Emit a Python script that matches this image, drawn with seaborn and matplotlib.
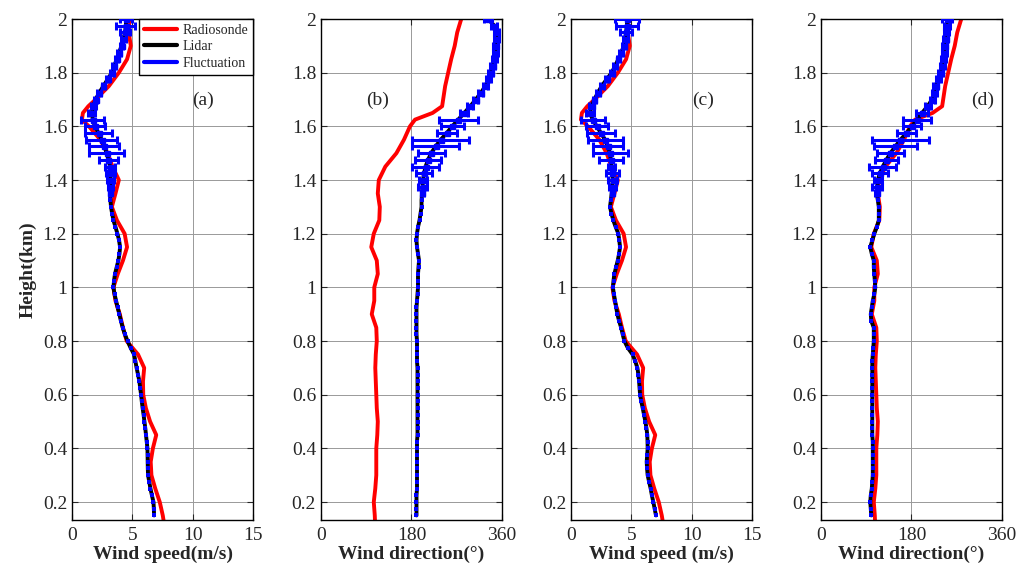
import numpy as np
import matplotlib
matplotlib.use("Agg")
import matplotlib.pyplot as plt
from matplotlib.lines import Line2D
from matplotlib.ticker import FuncFormatter
import seaborn as sns

sns.set_style("ticks")
plt.rcParams['font.family'] = ['Liberation Serif', 'DejaVu Serif']

# --- radiosonde levels (km) and profiles ---
h_sonde = [0.10, 0.15, 0.20, 0.25, 0.30, 0.35, 0.40, 0.45, 0.50, 0.55,
           0.60, 0.65, 0.70, 0.75, 0.80, 0.85, 0.90, 0.95, 1.00, 1.05,
           1.10, 1.15, 1.20, 1.25, 1.30, 1.35, 1.40, 1.45, 1.50, 1.55,
           1.60, 1.625, 1.65, 1.675, 1.70, 1.75, 1.80, 1.85, 1.90, 1.95, 2.00]
sonde_speed = [7.70, 7.52, 7.27, 6.90, 6.58, 6.52, 6.70, 6.98, 6.47, 6.12,
               5.90, 5.88, 5.98, 5.47, 4.53, 4.22, 3.96, 3.60, 3.43, 3.79,
               4.22, 4.56, 4.36, 3.72, 3.30, 3.60, 3.88, 3.35, 2.95, 2.35,
               1.40, 0.82, 0.90, 1.35, 1.95, 3.05, 3.88, 4.56, 4.87, 4.70, 4.75]
sonde_dir = [108, 107, 105, 108, 110, 110, 110, 112, 113, 111,
             110, 109, 108, 109, 111, 110, 101, 106, 106, 113,
             111, 100, 105, 116, 117, 113, 115, 128, 150, 165,
             177, 187, 222, 241, 243, 247, 253, 259, 266, 271, 279]

# --- lidar range gates (km), 0.15 .. 2.0 every 25 m ---
h_lidar = np.round(np.arange(0.15, 2.0001, 0.025), 3)

lidar_speed_a = [6.80, 6.78, 6.75, 6.62, 6.50, 6.40, 6.30, 6.28, 6.27, 6.26,
                 6.25, 6.19, 6.13, 6.07, 6.00, 5.93, 5.85, 5.78, 5.72, 5.65,
                 5.58, 5.47, 5.35, 5.25, 5.14, 4.85, 4.60, 4.38, 4.20, 4.05,
                 3.92, 3.78, 3.65, 3.52, 3.43, 3.48, 3.56, 3.70, 3.84, 3.93,
                 3.98, 3.90, 3.76, 3.60, 3.43, 3.32, 3.23, 3.18, 3.15, 3.17,
                 3.20, 3.18, 3.15, 3.02, 2.87, 2.68, 2.46, 2.20, 1.90, 1.72,
                 1.63, 1.75, 1.95, 2.25, 2.60, 2.95, 3.30, 3.50, 3.70, 3.90,
                 4.10, 4.25, 4.40, 4.45, 4.50]
lidar_dir_b = [190, 190, 190, 190, 191, 191, 191, 191, 191, 191,
               191, 191, 192, 192, 192, 192, 192, 192, 192, 192,
               192, 192, 192, 191, 191, 191, 191, 190, 190, 190,
               190, 190, 191, 192, 193, 193, 193, 194, 195, 193,
               191, 190, 191, 193, 196, 198, 200, 200, 201, 202,
               203, 205, 208, 213, 219, 228, 238, 250, 261, 273,
               285, 297, 308, 318, 327, 333, 338, 342, 345, 347,
               348, 349, 349, 345, 332]
lidar_speed_c = [7.04, 6.93, 6.82, 6.70, 6.60, 6.47, 6.35, 6.30, 6.27, 6.31,
                 6.35, 6.34, 6.32, 6.25, 6.16, 6.05, 5.94, 5.82, 5.72, 5.68,
                 5.64, 5.58, 5.50, 5.32, 5.10, 4.70, 4.42, 4.28, 4.15, 3.98,
                 3.84, 3.74, 3.65, 3.55, 3.47, 3.52, 3.59, 3.73, 3.87, 3.98,
                 4.06, 4.00, 3.92, 3.70, 3.50, 3.35, 3.23, 3.30, 3.37, 3.42,
                 3.45, 3.42, 3.37, 3.30, 3.23, 3.05, 2.82, 2.48, 2.13, 1.80,
                 1.57, 1.70, 1.93, 2.22, 2.54, 2.95, 3.37, 3.65, 3.92, 4.15,
                 4.39, 4.48, 4.56, 4.62, 4.67]
lidar_dir_d = [100, 99, 98, 99, 101, 102, 103, 103, 103, 103,
               103, 103, 102, 102, 102, 102, 102, 102, 102, 102,
               102, 102, 102, 102, 103, 104, 105, 105, 105, 100,
               99, 101, 103, 106, 108, 107, 106, 105, 105, 101,
               98, 102, 106, 111, 115, 115, 115, 113, 111, 112,
               113, 117, 123, 130, 138, 148, 158, 170, 181, 191,
               201, 212, 221, 225, 228, 233, 238, 241, 243, 245,
               246, 248, 249, 250, 251]

# fluctuation half-widths for gates 1.35 .. 2.0 km (none drawn below)
n_low = 48
err_a_top = [0.10, 0.20, 0.30, 0.35, 0.40, 0.80, 1.45, 1.25, 1.30, 1.15,
             0.80, 0.95, 0.30, 0.20, 0.15, 0.15, 0.15, 0.15, 0.15, 0.15,
             0.15, 0.15, 0.15, 0.20, 0.40, 0.80, 0.50]
err_b_top = [3, 9, 8, 15, 27, 25, 27, 46, 57, 20,
             23, 39, 8, 6, 5, 5, 5, 5, 5, 5,
             5, 5, 5, 5, 5, 6, 8]
err_c_top = [0.10, 0.30, 0.40, 0.55, 0.30, 1.00, 1.45, 1.25, 1.45, 1.17,
             0.90, 1.00, 0.30, 0.20, 0.15, 0.15, 0.15, 0.15, 0.15, 0.15,
             0.15, 0.15, 0.15, 0.20, 0.50, 0.90, 1.00]
err_d_top = [3, 10, 8, 16, 27, 23, 27, 42, 57, 18,
             18, 28, 12, 6, 5, 5, 5, 5, 5, 5,
             5, 5, 5, 5, 5, 6, 10]

panels = [
    ('(a)', sonde_speed, lidar_speed_a, err_a_top, 'Wind speed(m/s)', (0, 15), [0, 5, 10, 15], 0.724),
    ('(b)', sonde_dir, lidar_dir_b, err_b_top, 'Wind direction(°)', (0, 360), [0, 180, 360], 0.315),
    ('(c)', sonde_speed, lidar_speed_c, err_c_top, 'Wind speed (m/s)', (0, 15), [0, 5, 10, 15], 0.729),
    ('(d)', sonde_dir, lidar_dir_d, err_d_top, 'Wind direction(°)', (0, 360), [0, 180, 360], 0.895),
]

fig = plt.figure(figsize=(10.19, 5.71), dpi=100)
lefts = [0.0707, 0.315, 0.5604, 0.8057]

for i, (tag, sonde, lidar, err_top, xlab, xlim, xt, tx) in enumerate(panels):
    ax = fig.add_axes([lefts[i], 0.0893, 0.1776, 0.8774])

    sns.lineplot(x=sonde, y=h_sonde, orient='y', sort=False, estimator=None,
                 color='red', lw=2.8, ax=ax)
    sns.lineplot(x=lidar, y=h_lidar, orient='y', sort=False, estimator=None,
                 color='black', lw=2.8, ax=ax)
    # fluctuation: small blue squares on every gate, bars on the upper gates
    ax.plot(lidar, h_lidar, 's', color='blue', ms=3.2, mew=0, zorder=5)
    ax.errorbar(lidar[n_low:], h_lidar[n_low:], xerr=err_top, fmt='s',
                color='blue', ms=3.6, elinewidth=2.2, capsize=3, capthick=2.2,
                zorder=6)

    ax.set_xlim(*xlim)
    ax.set_ylim(0.133, 2.0)
    ax.set_xticks(xt)
    ax.set_yticks(np.round(np.arange(0.2, 2.01, 0.2), 1))
    ax.yaxis.set_major_formatter(FuncFormatter(lambda v, p: '%g' % v))
    ax.grid(True, color='0.6', lw=0.7)
    ax.tick_params(direction='in', top=True, right=True, length=4,
                   width=0.8, labelsize=14)
    ax.tick_params(axis='x', pad=5)
    for s in ax.spines.values():
        s.set_linewidth(1.0)
        s.set_color('black')
    ax.set_xlabel(xlab, fontsize=14, fontweight='bold', labelpad=1)
    ax.set_ylabel('Height(km)' if i == 0 else '', fontsize=14, fontweight='bold')
    ax.text(tx, 0.838, tag, transform=ax.transAxes, ha='center', va='center', fontsize=14)

    if i == 0:
        handles = [Line2D([], [], color='red', lw=3),
                   Line2D([], [], color='black', lw=3),
                   Line2D([], [], color='blue', lw=3)]
        leg = ax.legend(handles, ['Radiosonde', 'Lidar', 'Fluctuation'],
                        loc='upper right', bbox_to_anchor=(1.0, 1.0),
                        borderaxespad=0, fontsize=10, fancybox=False,
                        framealpha=1, edgecolor='black', handlelength=2.4,
                        handletextpad=0.4, labelspacing=0.25, borderpad=0.35)
        leg.get_frame().set_linewidth(1.0)
        leg.set_zorder(10)

fig.savefig('out.png', dpi=100)
